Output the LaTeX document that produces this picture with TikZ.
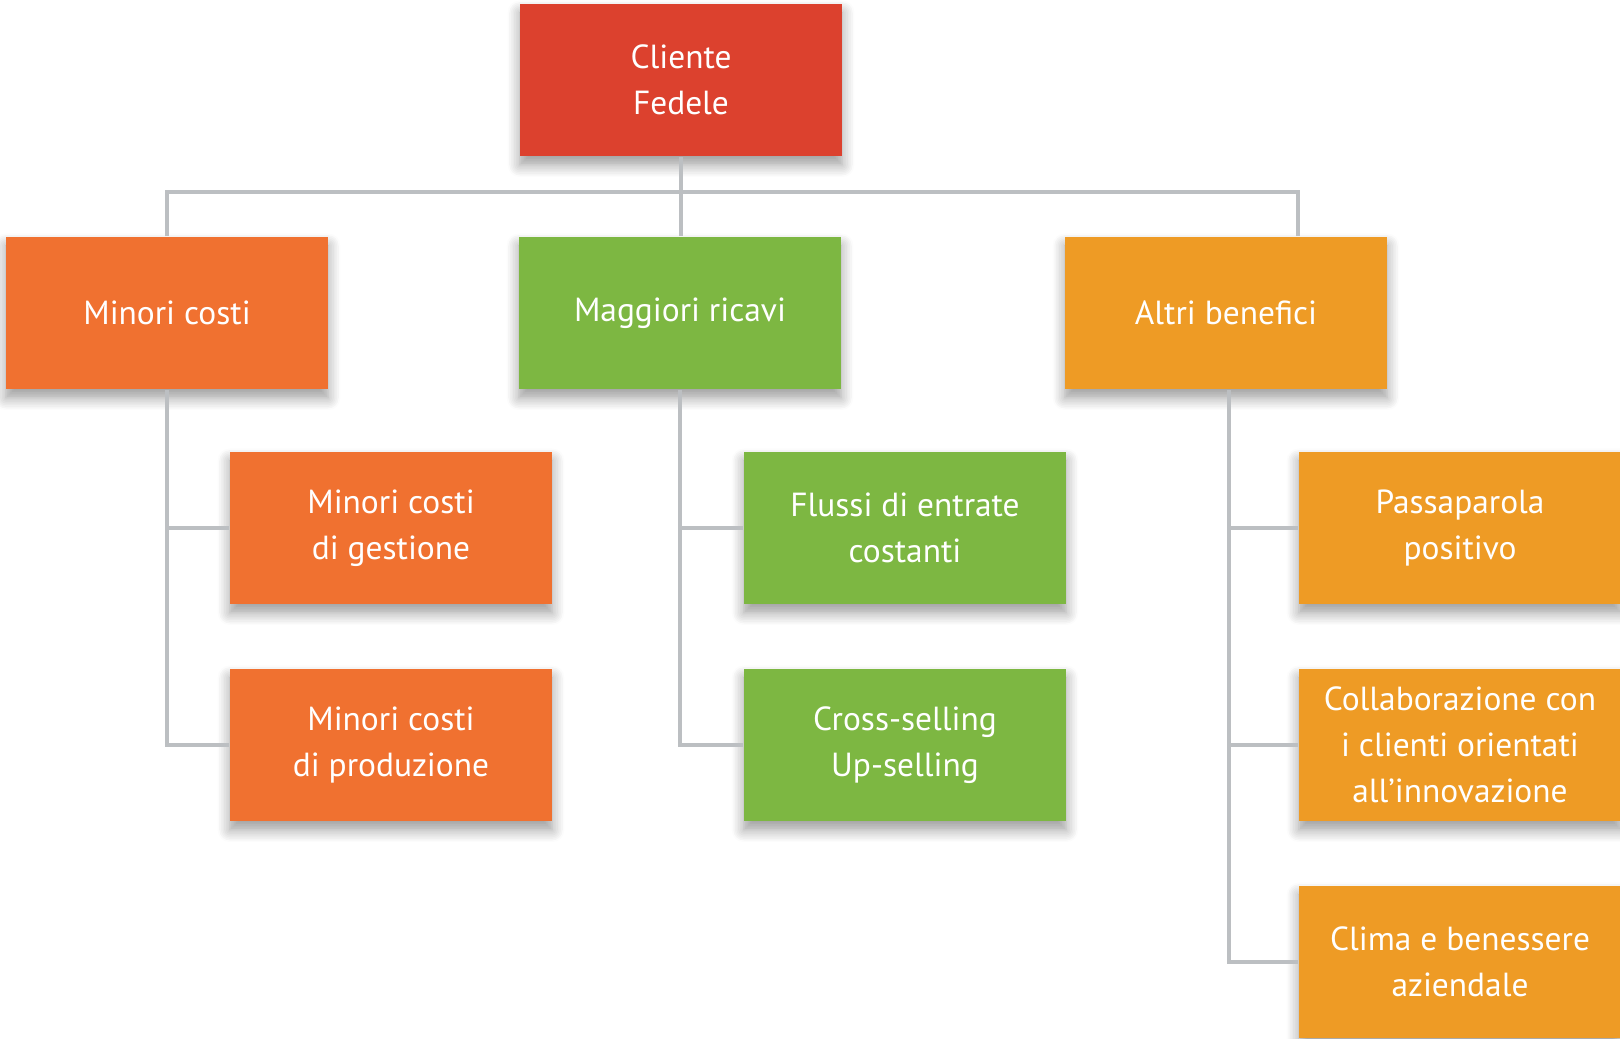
\documentclass[tikz,border=0pt]{standalone}
\usepackage{fontspec}
\setmainfont{PT Sans}
\usepackage{xcolor}
\usepackage{tikz}
\usetikzlibrary{positioning,shadows.blur}
\definecolor{rootred}{RGB}{220,65,46}
\definecolor{costorange}{RGB}{240,113,48}
\definecolor{revgreen}{RGB}{125,183,66}
\definecolor{othamber}{RGB}{238,155,37}
\definecolor{linegray}{RGB}{188,191,194}

\begin{document}
\begin{tikzpicture}[x=0.01cm, y=-0.01cm,
        box/.style={rectangle, fill=#1, text=white, minimum width=3.22cm,
            minimum height=1.52cm, inner sep=2pt, align=center,
            font=\fontsize{9.5}{13}\selectfont,
            blur shadow={shadow xshift=0pt, shadow yshift=-2.5pt,
                shadow blur radius=3.5pt, shadow blur steps=8, shadow opacity=40}},
        link/.style={draw=linegray, line width=1.1pt}
    ]
        \useasboundingbox (0,0) rectangle (1620,1038);

        % top
        \node[box=rootred] (A) at (681,80) {Cliente\\Fedele};

        % first level
        \node[box=costorange] (B) at (167,313) {Minori costi};
        \node[box=revgreen] (C) at (680,313) {Maggiori ricavi};
        \node[box=othamber] (D) at (1226,313) {Altri benefici};

        % second level
        \node[box=costorange] (B1) at (391,528) {Minori costi\\di gestione};
        \node[box=costorange] (B2) at (391,745) {Minori costi\\di produzione};
        \node[box=revgreen] (C1) at (905,528) {Flussi di entrate\\costanti};
        \node[box=revgreen] (C2) at (905,745) {Cross-selling\\Up-selling};
        \node[box=othamber] (D1) at (1460,528) {Passaparola\\positivo};
        \node[box=othamber] (D2) at (1460,745) {Collaborazione con\\i clienti orientati\\all'innovazione};
        \node[box=othamber] (D3) at (1460,962) {Clima e benessere\\aziendale};

        \coordinate (J) at (681,192);
        \coordinate (Dtop) at ([xshift=0.72cm]D.north);

        \draw[link] (A.south) -- (J);
        \draw[link] (J) -- (J |- C.north);
        \draw[link] (B.north) |- (J) -| (Dtop);

        \draw[link] (B.south) |- (B2.west);
        \draw[link] (B.south |- B1.west) -- (B1.west);
        \draw[link] (C.south) |- (C2.west);
        \draw[link] (C.south |- C1.west) -- (C1.west);
        \draw[link] ([xshift=0.03cm]D.south) |- (D3.west);
        \draw[link] ([xshift=0.03cm]D.south |- D1.west) -- (D1.west);
        \draw[link] ([xshift=0.03cm]D.south |- D2.west) -- (D2.west);
    \end{tikzpicture}
\end{document}
